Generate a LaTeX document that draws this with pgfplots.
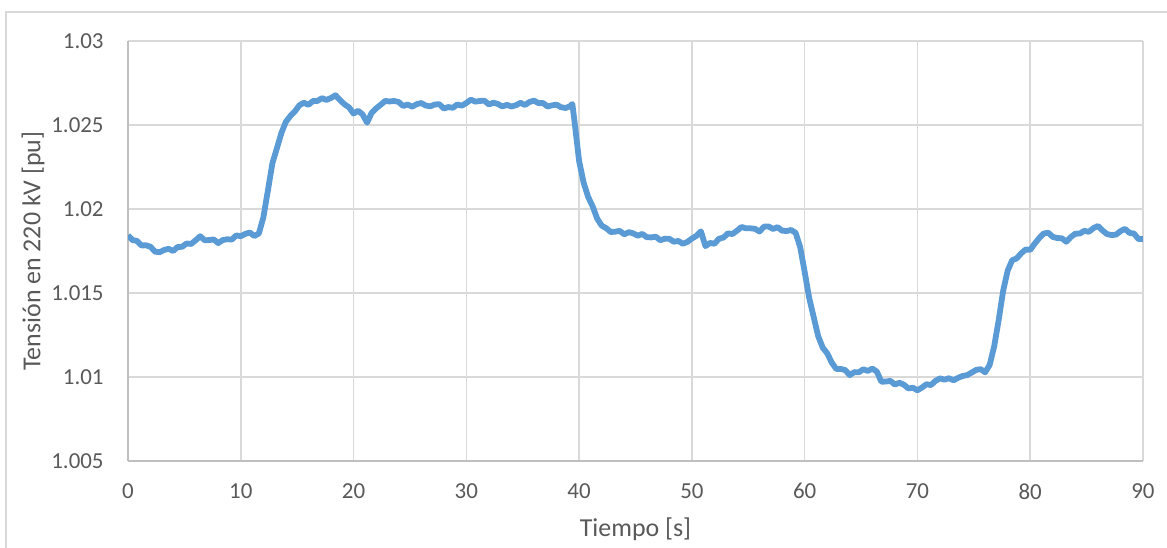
\documentclass[border=0pt]{standalone}
\usepackage{fontspec}
\setmainfont{Carlito}
\usepackage{pgfplots}
\pgfplotsset{compat=1.18}

\definecolor{serie}{HTML}{5B9BD5}
\definecolor{rejilla}{HTML}{D9D9D9}
\definecolor{eje}{HTML}{BFBFBF}
\definecolor{texto}{HTML}{595959}

\pgfplotstableread{
t v
0.0 1.01843
0.4 1.01815
0.8 1.01810
1.2 1.01783
1.6 1.01784
2.0 1.01775
2.4 1.01746
2.8 1.01743
3.2 1.01756
3.6 1.01763
4.0 1.01750
4.4 1.01774
4.8 1.01775
5.2 1.01795
5.6 1.01792
6.0 1.01814
6.4 1.01838
6.8 1.01814
7.2 1.01815
7.6 1.01819
8.0 1.01797
8.4 1.01815
8.8 1.01820
9.2 1.01818
9.6 1.01843
10.0 1.01838
10.4 1.01852
10.8 1.01860
11.2 1.01839
11.6 1.01854
12.0 1.01949
12.4 1.02108
12.8 1.02271
13.2 1.02361
13.6 1.02452
14.0 1.02519
14.4 1.02554
14.8 1.02581
15.2 1.02618
15.6 1.02632
16.0 1.02620
16.4 1.02643
16.8 1.02643
17.2 1.02660
17.6 1.02649
18.0 1.02661
18.4 1.02677
18.8 1.02648
19.2 1.02623
19.6 1.02605
20.0 1.02568
20.4 1.02585
20.8 1.02563
21.2 1.02514
21.6 1.02572
22.0 1.02599
22.4 1.02620
22.8 1.02643
23.2 1.02640
23.6 1.02643
24.0 1.02637
24.4 1.02613
24.8 1.02622
25.2 1.02609
25.6 1.02624
26.0 1.02631
26.4 1.02616
26.8 1.02611
27.2 1.02622
27.6 1.02624
28.0 1.02598
28.4 1.02607
28.8 1.02602
29.2 1.02622
29.6 1.02615
30.0 1.02631
30.4 1.02651
30.8 1.02639
31.2 1.02643
31.6 1.02645
32.0 1.02622
32.4 1.02633
32.8 1.02625
33.2 1.02610
33.6 1.02620
34.0 1.02610
34.4 1.02618
34.8 1.02632
35.2 1.02619
35.6 1.02637
36.0 1.02645
36.4 1.02630
36.8 1.02631
37.2 1.02610
37.6 1.02617
38.0 1.02621
38.4 1.02606
38.8 1.02601
39.2 1.02612
39.4 1.02625
39.6 1.02517
40.0 1.02286
40.4 1.02157
40.8 1.02072
41.2 1.02016
41.6 1.01943
42.0 1.01901
42.4 1.01886
42.8 1.01863
43.2 1.01865
43.6 1.01870
44.0 1.01849
44.4 1.01862
44.8 1.01855
45.2 1.01841
45.6 1.01852
46.0 1.01832
46.4 1.01831
46.8 1.01835
47.2 1.01814
47.6 1.01823
48.0 1.01823
48.4 1.01805
48.8 1.01810
49.2 1.01793
49.6 1.01804
50.0 1.01824
50.4 1.01840
50.8 1.01867
51.2 1.01779
51.6 1.01798
52.0 1.01793
52.4 1.01823
52.8 1.01830
53.2 1.01855
53.6 1.01851
54.0 1.01871
54.4 1.01893
54.8 1.01885
55.2 1.01885
55.6 1.01882
56.0 1.01866
56.4 1.01895
56.8 1.01896
57.2 1.01881
57.6 1.01892
58.0 1.01871
58.4 1.01869
58.8 1.01875
59.2 1.01858
59.6 1.01774
60.0 1.01626
60.4 1.01471
60.8 1.01357
61.2 1.01243
61.6 1.01175
62.0 1.01141
62.4 1.01086
62.8 1.01048
63.2 1.01048
63.6 1.01041
64.0 1.01011
64.4 1.01029
64.8 1.01028
65.2 1.01046
65.6 1.01036
66.0 1.01050
66.4 1.01032
66.8 1.00972
67.2 1.00973
67.6 1.00977
68.0 1.00955
68.4 1.00966
68.8 1.00954
69.2 1.00932
69.6 1.00936
70.0 1.00921
70.4 1.00937
70.8 1.00957
71.2 1.00952
71.6 1.00977
72.0 1.00992
72.4 1.00984
72.8 1.00993
73.2 1.00980
73.6 1.00995
74.0 1.01006
74.4 1.01011
74.8 1.01026
75.2 1.01042
75.6 1.01047
76.0 1.01028
76.4 1.01071
76.8 1.01181
77.2 1.01337
77.6 1.01513
78.0 1.01633
78.4 1.01695
78.8 1.01706
79.2 1.01736
79.6 1.01759
80.0 1.01757
80.4 1.01794
80.8 1.01827
81.2 1.01854
81.6 1.01859
82.0 1.01834
82.4 1.01827
82.8 1.01826
83.2 1.01805
83.6 1.01833
84.0 1.01853
84.4 1.01854
84.8 1.01870
85.2 1.01864
85.6 1.01886
86.0 1.01899
86.4 1.01873
86.8 1.01851
87.2 1.01845
87.6 1.01847
88.0 1.01868
88.4 1.01882
88.8 1.01858
89.2 1.01854
89.6 1.01821
90.0 1.01821
}\tension

\begin{document}
\begin{tikzpicture}
\begin{axis}[
    name=ax,
    scale only axis,
    width=507.5bp,
    height=210bp,
    xmin=0, xmax=90,
    ymin=1.005, ymax=1.03,
    xtick={0,10,20,30,40,50,60,70,80,90},
    ytick={1.005,1.01,1.015,1.02,1.025,1.03},
    yticklabels={1.005,1.01,1.015,1.02,1.025,1.03},
    axis x line=bottom,
    axis y line=left,
    axis line style={draw=eje, line width=0.75bp, -},
    major tick length=0pt,
    grid=major,
    major grid style={draw=rejilla, line width=0.75bp},
    /pgf/number format/assume math mode=true,
    tick label style={font=\fontsize{11.5}{13}\selectfont, text=texto, inner sep=0pt},
    xticklabel style={anchor=north, yshift=-11bp},
    yticklabel style={anchor=east, xshift=-12bp},
]
\addplot[serie, line width=2.9bp, line join=round, no marks] table[x=t, y=v] {\tension};
\end{axis}
\path (ax.south west) ++(-47.5bp,105bp)
  node[rotate=90, font=\fontsize{13}{15}\selectfont, text=texto, inner sep=0pt] {Tensión en 220 kV [pu]};
\path (ax.south west) ++(253.75bp,-28bp)
  node[anchor=north, font=\fontsize{13}{15}\selectfont, text=texto, inner sep=0pt] {Tiempo [s]};
\draw[rejilla, line width=0.75bp] (ax.south west) ++(-61bp,-70bp) rectangle ++(620bp,294.5bp);
\pgfresetboundingbox
\path[use as bounding box] (ax.south west) ++(-64bp,-43.5bp) rectangle ++(583.5bp,274bp);
\end{tikzpicture}
\end{document}
